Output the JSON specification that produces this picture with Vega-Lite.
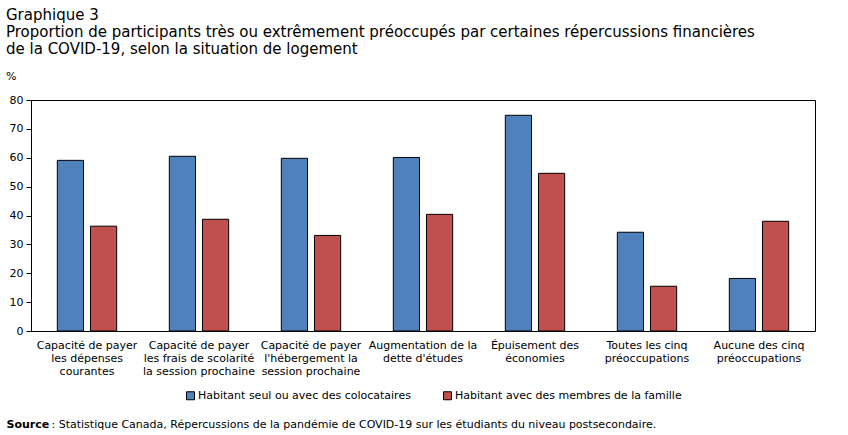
{
  "$schema": "https://vega.github.io/schema/vega-lite/v6.json",
  "width": 784,
  "height": 231,
  "padding": {"left": 6, "top": 8, "right": 5, "bottom": 5},
  "background": "white",
  "config": {
    "font": "DejaVu Sans",
    "view": {"stroke": "black", "strokeWidth": 1},
    "axis": {"labelColor": "black", "titleColor": "black", "domainColor": "black", "tickColor": "black", "grid": false, "labelFontSize": 11, "titleFontSize": 11}
  },
  "title": {
    "text": ["Graphique 3", "Proportion de participants très ou extrêmement préoccupés par certaines répercussions financières", "de la COVID-19, selon la situation de logement"],
    "subtitle": "%",
    "anchor": "start",
    "frame": "bounds",
    "fontSize": 15,
    "fontWeight": "normal",
    "lineHeight": 17,
    "color": "black",
    "subtitleFontSize": 11,
    "subtitleColor": "black",
    "subtitlePadding": 14,
    "offset": 12
  },
  "data": {
    "values": [
      {"categorie": "Capacité de payer\nles dépenses\ncourantes", "situation": "Habitant seul ou avec des colocataires", "pct": 59.1},
      {"categorie": "Capacité de payer\nles dépenses\ncourantes", "situation": "Habitant avec des membres de la famille", "pct": 36.3},
      {"categorie": "Capacité de payer\nles frais de scolarité\nla session prochaine", "situation": "Habitant seul ou avec des colocataires", "pct": 60.5},
      {"categorie": "Capacité de payer\nles frais de scolarité\nla session prochaine", "situation": "Habitant avec des membres de la famille", "pct": 38.7},
      {"categorie": "Capacité de payer\nl'hébergement la\nsession prochaine", "situation": "Habitant seul ou avec des colocataires", "pct": 59.8},
      {"categorie": "Capacité de payer\nl'hébergement la\nsession prochaine", "situation": "Habitant avec des membres de la famille", "pct": 33.1},
      {"categorie": "Augmentation de la\ndette d'études", "situation": "Habitant seul ou avec des colocataires", "pct": 60.1},
      {"categorie": "Augmentation de la\ndette d'études", "situation": "Habitant avec des membres de la famille", "pct": 40.4},
      {"categorie": "Épuisement des\néconomies", "situation": "Habitant seul ou avec des colocataires", "pct": 74.7},
      {"categorie": "Épuisement des\néconomies", "situation": "Habitant avec des membres de la famille", "pct": 54.6},
      {"categorie": "Toutes les cinq\npréoccupations", "situation": "Habitant seul ou avec des colocataires", "pct": 34.2},
      {"categorie": "Toutes les cinq\npréoccupations", "situation": "Habitant avec des membres de la famille", "pct": 15.5},
      {"categorie": "Aucune des cinq\npréoccupations", "situation": "Habitant seul ou avec des colocataires", "pct": 18.2},
      {"categorie": "Aucune des cinq\npréoccupations", "situation": "Habitant avec des membres de la famille", "pct": 38.0}
    ]
  },
  "mark": {"type": "bar", "stroke": "black", "strokeWidth": 1},
  "encoding": {
    "x": {
      "field": "categorie",
      "type": "nominal",
      "sort": null,
      "scale": {"paddingInner": 0.47, "paddingOuter": 0.235},
      "axis": {
        "labelAngle": 0,
        "labelExpr": "split(datum.label, '\\n')",
        "labelLineHeight": 13,
        "labelPadding": 8,
        "labelBaseline": "top",
        "ticks": false,
        "domain": false,
        "title": " : Statistique Canada, Répercussions de la pandémie de COVID-19 sur les étudiants du niveau postsecondaire.",
        "titleFontWeight": "normal",
        "titleAnchor": "start",
        "titleAlign": "left",
        "titleBaseline": "alphabetic",
        "titleX": 20,
        "titleY": 96
      }
    },
    "xOffset": {
      "field": "situation",
      "type": "nominal",
      "sort": ["Habitant seul ou avec des colocataires", "Habitant avec des membres de la famille"],
      "scale": {"paddingInner": 0.21}
    },
    "y": {
      "field": "pct",
      "type": "quantitative",
      "scale": {"domain": [0, 80], "nice": false},
      "axis": {
        "values": [0, 10, 20, 30, 40, 50, 60, 70, 80],
        "tickSize": 5,
        "labelPadding": 3,
        "title": "Source",
        "titleFontWeight": "bold",
        "titleAngle": 0,
        "titleAlign": "left",
        "titleBaseline": "alphabetic",
        "titleX": -25,
        "titleY": 327
      }
    },
    "color": {
      "field": "situation",
      "type": "nominal",
      "sort": ["Habitant seul ou avec des colocataires", "Habitant avec des membres de la famille"],
      "scale": {"range": ["#4F81BD", "#C0504D"]},
      "legend": {
        "title": null,
        "orient": "none",
        "direction": "horizontal",
        "legendX": 154,
        "legendY": 290,
        "symbolType": "square",
        "symbolSize": 64,
        "symbolStrokeColor": "black",
        "symbolStrokeWidth": 1,
        "labelFontSize": 11,
        "labelColor": "black",
        "labelLimit": 0,
        "labelOffset": 2,
        "columnPadding": 30
      }
    }
  }
}
